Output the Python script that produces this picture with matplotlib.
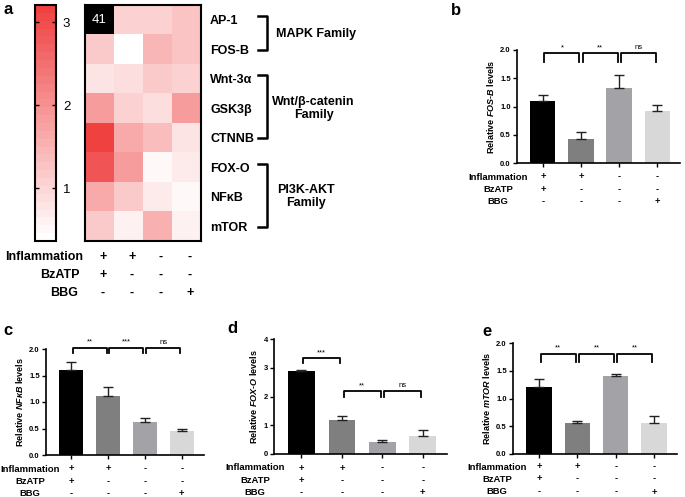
import numpy as np
import matplotlib
matplotlib.use("Agg")
import matplotlib.pyplot as plt
from matplotlib.colors import LinearSegmentedColormap, Normalize
from matplotlib.cm import ScalarMappable

plt.rcParams['font.family'] = ['Liberation Sans', 'DejaVu Sans']
plt.rcParams['mathtext.fontset'] = 'custom'
plt.rcParams['mathtext.it'] = 'Liberation Sans:italic:bold'
plt.rcParams['mathtext.rm'] = 'Liberation Sans:bold'
plt.rcParams['mathtext.bf'] = 'Liberation Sans:bold'

# ---- data ----
genes = ["AP-1", "FOS-B", "Wnt-3α", "GSK3β", "CTNNB", "FOX-O", "NFκB", "mTOR"]
heat_ap1 = [41, 1.11, 1.11, 1.26]
heat_fosb = [1.19, 0.36, 1.49, 1.26]
heat_wnt = [0.81, 0.92, 1.19, 1.04]
heat_gsk = [1.79, 1.11, 0.92, 1.79]
heat_ctnnb = [3.17, 1.64, 1.34, 0.81]
heat_foxo = [2.91, 1.79, 0.51, 0.71]
heat_nfkb = [1.67, 1.19, 0.66, 0.51]
heat_mtor = [1.19, 0.62, 1.52, 0.56]

families = [("MAPK Family", 0, 1), ("Wnt/β-catenin\nFamily", 2, 4), ("PI3K-AKT\nFamily", 5, 7)]

cond_names = ["Inflammation", "BzATP", "BBG"]
inflammation = ["+", "+", "-", "-"]
bzatp = ["+", "-", "-", "-"]
bbg = ["-", "-", "-", "+"]

fosb_mean = [1.10, 0.43, 1.33, 0.92]
fosb_err = [0.10, 0.11, 0.23, 0.11]
fosb_sig = ["*", "**", "ns"]

nfkb_mean = [1.61, 1.12, 0.62, 0.45]
nfkb_err = [0.15, 0.16, 0.07, 0.04]
nfkb_sig = ["**", "***", "ns"]

foxo_mean = [2.87, 1.18, 0.42, 0.62]
foxo_err = [0.05, 0.13, 0.05, 0.21]
foxo_sig = ["***", "**", "ns"]

mtor_mean = [1.21, 0.55, 1.41, 0.55]
mtor_err = [0.15, 0.05, 0.03, 0.14]
mtor_sig = ["**", "**", "**"]

bar_colors = ["#000000", "#7f7f7f", "#a2a2a7", "#d8d8d8"]

W, H = 685, 497
fig = plt.figure(figsize=(W / 100, H / 100), dpi=100)


def box(l, t, r, b):
    return [l / W, 1 - b / H, (r - l) / W, (b - t) / H]


def ftext(x, y, s, **kw):
    fig.text(x / W, 1 - y / H, s, **kw)


# ---- panel a: heatmap ----
heat = np.array([heat_ap1, heat_fosb, heat_wnt, heat_gsk,
                 heat_ctnnb, heat_foxo, heat_nfkb, heat_mtor])
cmap = LinearSegmentedColormap.from_list("wr", ["#ffffff", "#f04141"], N=30)
cmap.set_over("black")
norm = Normalize(vmin=0.36, vmax=3.21)

axh = fig.add_axes(box(85, 5, 201, 241))
axh.imshow(heat, cmap=cmap, norm=norm, aspect="auto", interpolation="nearest")
for sp in axh.spines.values():
    sp.set_linewidth(1.5)
axh.set_xticks([])
axh.set_yticks(range(len(genes)))
axh.set_yticklabels(genes, fontsize=9, fontweight="bold")
axh.yaxis.tick_right()
axh.tick_params(axis="y", length=0, pad=6.5)
for r in range(heat.shape[0]):
    for c in range(heat.shape[1]):
        if heat[r, c] > norm.vmax:
            axh.text(c, r, f"{heat[r, c]:g}", color="white", fontsize=9.5,
                     ha="center", va="center")

trans = axh.get_yaxis_transform()
for name, r0, r1 in families:
    y0, y1 = r0 - 0.12, r1 + 0.02
    axh.plot([1.49, 1.565, 1.565, 1.49], [y0, y0, y1, y1], color="black",
             lw=1.8, transform=trans, clip_on=False)
    if "\n" in name:
        xc = 1.97 if name.startswith("Wnt") else 1.905
        axh.text(xc, (r0 + r1) / 2, name, transform=trans, ha="center",
                 va="center", fontsize=9, fontweight="bold", linespacing=1.1,
                 multialignment="center")
    else:
        axh.text(1.645, (r0 + r1) / 2, name, transform=trans, ha="left",
                 va="center", fontsize=9, fontweight="bold")

# condition table under heatmap
for k, (nm, row) in enumerate(zip(cond_names, [inflammation, bzatp, bbg])):
    y = [257, 275, 293][k]
    ftext([83, 80, 78][k], y, nm, ha="right", va="center", fontsize=9,
          fontweight="bold")
    for c, s in enumerate(row):
        axh.annotate(s, xy=(c + 0.12, 0), xycoords=axh.get_xaxis_transform(),
                     xytext=(0, -(y - 241) * 0.72), textcoords="offset points",
                     ha="center", va="center", fontsize=9, fontweight="bold")

# colorbar
cax = fig.add_axes(box(35, 5, 56, 241))
cb = fig.colorbar(ScalarMappable(norm=norm, cmap=cmap), cax=cax)
cb.set_ticks([1, 2, 3])
cb.outline.set_linewidth(1.5)
cax.tick_params(axis="y", which="both", left=True, right=True, direction="in",
                length=3, width=1, labelsize=9.5, pad=5)
cax.minorticks_off()

ftext(3, 14, "a", fontsize=12, fontweight="bold")


# ---- bar panels ----
def bar_panel(rect, means, errs, yticks, ylab, sigs, sig_levels, name_cx,
              row_off=(14, 26.5, 38.5)):
    ax = fig.add_axes(box(*rect))
    x = np.arange(len(means))
    ax.bar(x, means, width=0.66, color=bar_colors, zorder=2)
    ax.errorbar(x, means, yerr=[np.zeros(len(errs)), errs], fmt="none",
                ecolor="#222222", elinewidth=1, capsize=3.5, capthick=1,
                zorder=3)
    ax.set_xlim(-0.68, 3.6)
    ax.set_ylim(yticks[0], yticks[-1])
    ax.set_yticks(yticks)
    ax.set_yticklabels([f"{t:g}" if isinstance(t, int) else f"{t:.1f}" for t in yticks],
                       fontsize=5.5, fontweight="bold")
    ax.set_xticks(x)
    ax.set_xticklabels([])
    ax.tick_params(length=3, width=1, pad=1.5)
    for s in ["top", "right"]:
        ax.spines[s].set_visible(False)
    for s in ["left", "bottom"]:
        ax.spines[s].set_linewidth(1.2)
    ax.set_ylabel(ylab, fontsize=6.5, fontweight="bold", labelpad=3)

    for (i, j, top, arm), s in zip(sig_levels, sigs):
        ax.plot([i + 0.04, i + 0.04, j - 0.04, j - 0.04], [arm, top, top, arm],
                color="black", lw=1.3, clip_on=False, zorder=4)
        ax.annotate(s, xy=((i + j) / 2, top), xytext=(0, 1.5),
                    textcoords="offset points", ha="center", va="bottom",
                    fontsize=5.5, annotation_clip=False)

    bottom = rect[3]
    for k, (nm, row) in enumerate(zip(cond_names, [inflammation, bzatp, bbg])):
        ftext(name_cx, bottom + row_off[k], nm, ha="center", va="center",
              fontsize=6.8, fontweight="bold")
        for c, s in enumerate(row):
            ax.annotate(s, xy=(c, 0), xycoords=ax.get_xaxis_transform(),
                        xytext=(0, -row_off[k] * 0.72), textcoords="offset points",
                        ha="center", va="center", fontsize=6.8, fontweight="bold")
    return ax


bar_panel((517, 50, 680, 163), fosb_mean, fosb_err, [0.0, 0.5, 1.0, 1.5, 2.0],
          "Relative $FOS$-$B$ levels", fosb_sig,
          [(0, 1, 1.94, 1.79), (1, 2, 1.94, 1.79), (2, 3, 1.94, 1.79)], 498)
ftext(451, 15, "b", fontsize=12, fontweight="bold")

bar_panel((46, 349, 204, 455), nfkb_mean, nfkb_err, [0.0, 0.5, 1.0, 1.5, 2.0],
          r"Relative $NF\kappa B$ levels", nfkb_sig,
          [(0, 1, 2.02, 1.93), (1, 2, 2.02, 1.93), (2, 3, 2.02, 1.93)], 30)
ftext(3, 335, "c", fontsize=12, fontweight="bold")

bar_panel((274, 339, 447, 454), foxo_mean, foxo_err, [0, 1, 2, 3, 4],
          "Relative $FOX$-$O$ levels", foxo_sig,
          [(0, 1, 3.33, 3.15), (1, 2, 2.19, 1.99), (2, 3, 2.19, 1.99)], 255)
ftext(227, 333, "d", fontsize=12, fontweight="bold")

bar_panel((513, 343, 677, 454), mtor_mean, mtor_err, [0.0, 0.5, 1.0, 1.5, 2.0],
          "Relative $mTOR$ levels", mtor_sig,
          [(0, 1, 1.81, 1.66), (1, 2, 1.81, 1.66), (2, 3, 1.81, 1.66)], 497,
          row_off=(13, 25, 38))
ftext(482, 336, "e", fontsize=12, fontweight="bold")

fig.savefig("out.png", dpi=100)
